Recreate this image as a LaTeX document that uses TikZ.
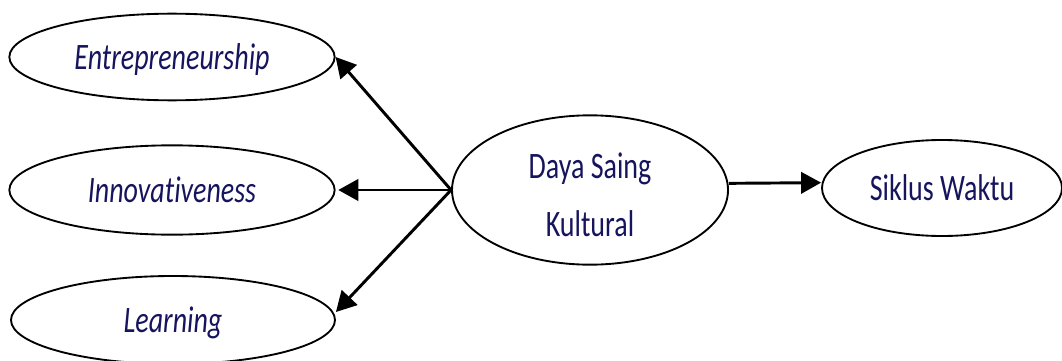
\documentclass[tikz,border=0pt]{standalone}
\usepackage{fontspec}
\setmainfont[FakeStretch=0.75,Ligatures=CommonOff]{Carlito}
\usepackage{xcolor}
\usetikzlibrary{shapes.geometric,arrows.meta}
\definecolor{navytext}{RGB}{22,20,92}

\tikzset{
  construct/.style={draw, ellipse, line width=1.4pt, inner sep=0pt, text=navytext, font=\fontsize{28}{34}\selectfont},
  dimension/.style={construct, text depth=0pt, font=\fontsize{28}{34}\selectfont\itshape},
  link/.style={line width=2.2pt, -{Triangle[length=15pt,width=16pt]}}
}

\begin{document}
\begin{tikzpicture}[x=0.75pt,y=-0.75pt]
		\useasboundingbox (0,0) rectangle (1062,360);
		\node[dimension, minimum width=244pt, minimum height=65pt] (entre) at (172,57) {Entrepreneurship};
		\node[dimension, minimum width=244pt, minimum height=67pt] (innov) at (172,190) {Innovativeness};
		\node[dimension, minimum width=243pt, minimum height=66pt] (learn) at (173,320) {Learning};
		\node[construct, minimum width=207pt, minimum height=112pt, align=center, text height=70pt, font=\fontsize{28}{43.5}\selectfont] (daya) at (590,190) {Daya Saing\\Kultural};
		\node[construct, minimum width=180pt, minimum height=72pt] (siklus) at (942,188) {Siklus Waktu};
		\draw[link] (daya.west) -- (entre.east);
		\draw[link] (daya.west) -- ([xshift=2pt]innov.east);
		\draw[link] (daya.west) -- ([yshift=6pt]learn.east);
		\draw[link] ([yshift=5pt]daya.east) -- ([yshift=4pt]siklus.west);
	\end{tikzpicture}
\end{document}
